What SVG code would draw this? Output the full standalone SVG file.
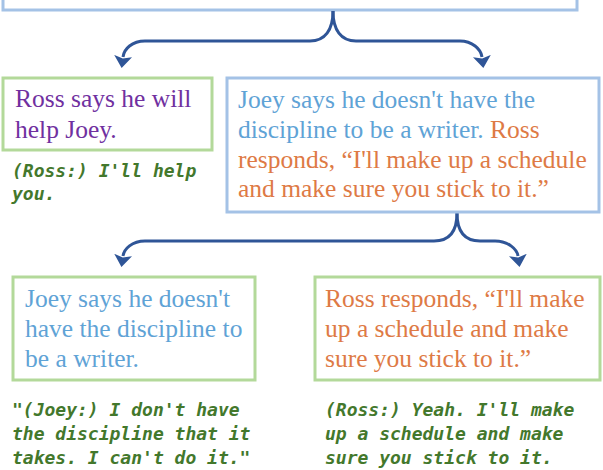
<svg xmlns="http://www.w3.org/2000/svg" width="603" height="470" viewBox="0 0 603 470">
<defs>
<marker id="ah" viewBox="0 0 12 18" markerUnits="userSpaceOnUse" markerWidth="12" markerHeight="18" refX="1" refY="9" orient="auto">
<path d="M0,0 L12,9 L0,18 L2.5,9 z" fill="#2F5597"/>
</marker>
<style>
.bb{fill:#fff;stroke:#A4C2E6;stroke-width:3}
.gb{fill:#fff;stroke:#B3D99A;stroke-width:3}
.serif{font-family:"Liberation Serif","Times New Roman",serif;font-size:25.5px}
.mono{font-family:"DejaVu Sans Mono","Liberation Mono",monospace;font-size:18px;font-weight:bold;font-style:italic;fill:#43782C}
.pu{fill:#7030A0}
.bl{fill:#5FA3D6}
.or{fill:#DE7A45}
.conn{fill:none;stroke:#2F5597;stroke-width:3;marker-end:url(#ah)}
</style>
</defs>
<rect width="603" height="470" fill="#fff"/>
<g id="top">
<rect class="bb" x="3" y="-100" width="574" height="110"/>
</g>
<g id="connectors">
<path class="conn" d="M333,11 C333,30 325,41 310,41 L145,41 C132,41 124,49 123,57"/>
<path class="conn" d="M333,11 C333,30 341,41 356,41 L460,41 C472,41 481,49 482,57"/>
<path class="conn" d="M457,213 C457,232 449,241 434,241 L145,241 C132,241 124,249 123,256"/>
<path class="conn" d="M457,213 C457,232 465,241 480,241 L495,241 C508,241 517,249 518,256"/>
</g>
<g id="ross-help">
<rect class="gb" x="3" y="78" width="209" height="72"/>
<text class="serif pu" x="15" y="107">Ross says he will</text>
<text class="serif pu" x="15" y="138">help Joey.</text>
<text class="mono" x="12" y="177">(Ross:) I'll help</text>
<text class="mono" x="12" y="200">you.</text>
</g>
<g id="joey-ross">
<rect class="bb" x="227" y="78" width="372" height="134"/>
<text class="serif bl" x="238" y="108">Joey says he doesn't have the</text>
<text class="serif" x="238" y="138"><tspan class="bl">discipline to be a writer. </tspan><tspan class="or">Ross</tspan></text>
<text class="serif or" x="238" y="168">responds, “I'll make up a schedule</text>
<text class="serif or" x="238" y="197">and make sure you stick to it.”</text>
</g>
<g id="joey">
<rect class="gb" x="13" y="277" width="242" height="103"/>
<text class="serif bl" x="25" y="307">Joey says he doesn't</text>
<text class="serif bl" x="25" y="337">have the discipline to</text>
<text class="serif bl" x="25" y="367">be a writer.</text>
<text class="mono" x="12" y="416">"(Joey:) I don't have</text>
<text class="mono" x="12" y="440">the discipline that it</text>
<text class="mono" x="12" y="464">takes. I can't do it."</text>
</g>
<g id="ross">
<rect class="gb" x="315" y="277" width="285" height="103"/>
<text class="serif or" x="325" y="307">Ross responds, “I'll make</text>
<text class="serif or" x="325" y="337">up a schedule and make</text>
<text class="serif or" x="325" y="367">sure you stick to it.”</text>
<text class="mono" x="325" y="416">(Ross:) Yeah. I'll make</text>
<text class="mono" x="325" y="440">up a schedule and make</text>
<text class="mono" x="325" y="464">sure you stick to it.</text>
</g>
</svg>
